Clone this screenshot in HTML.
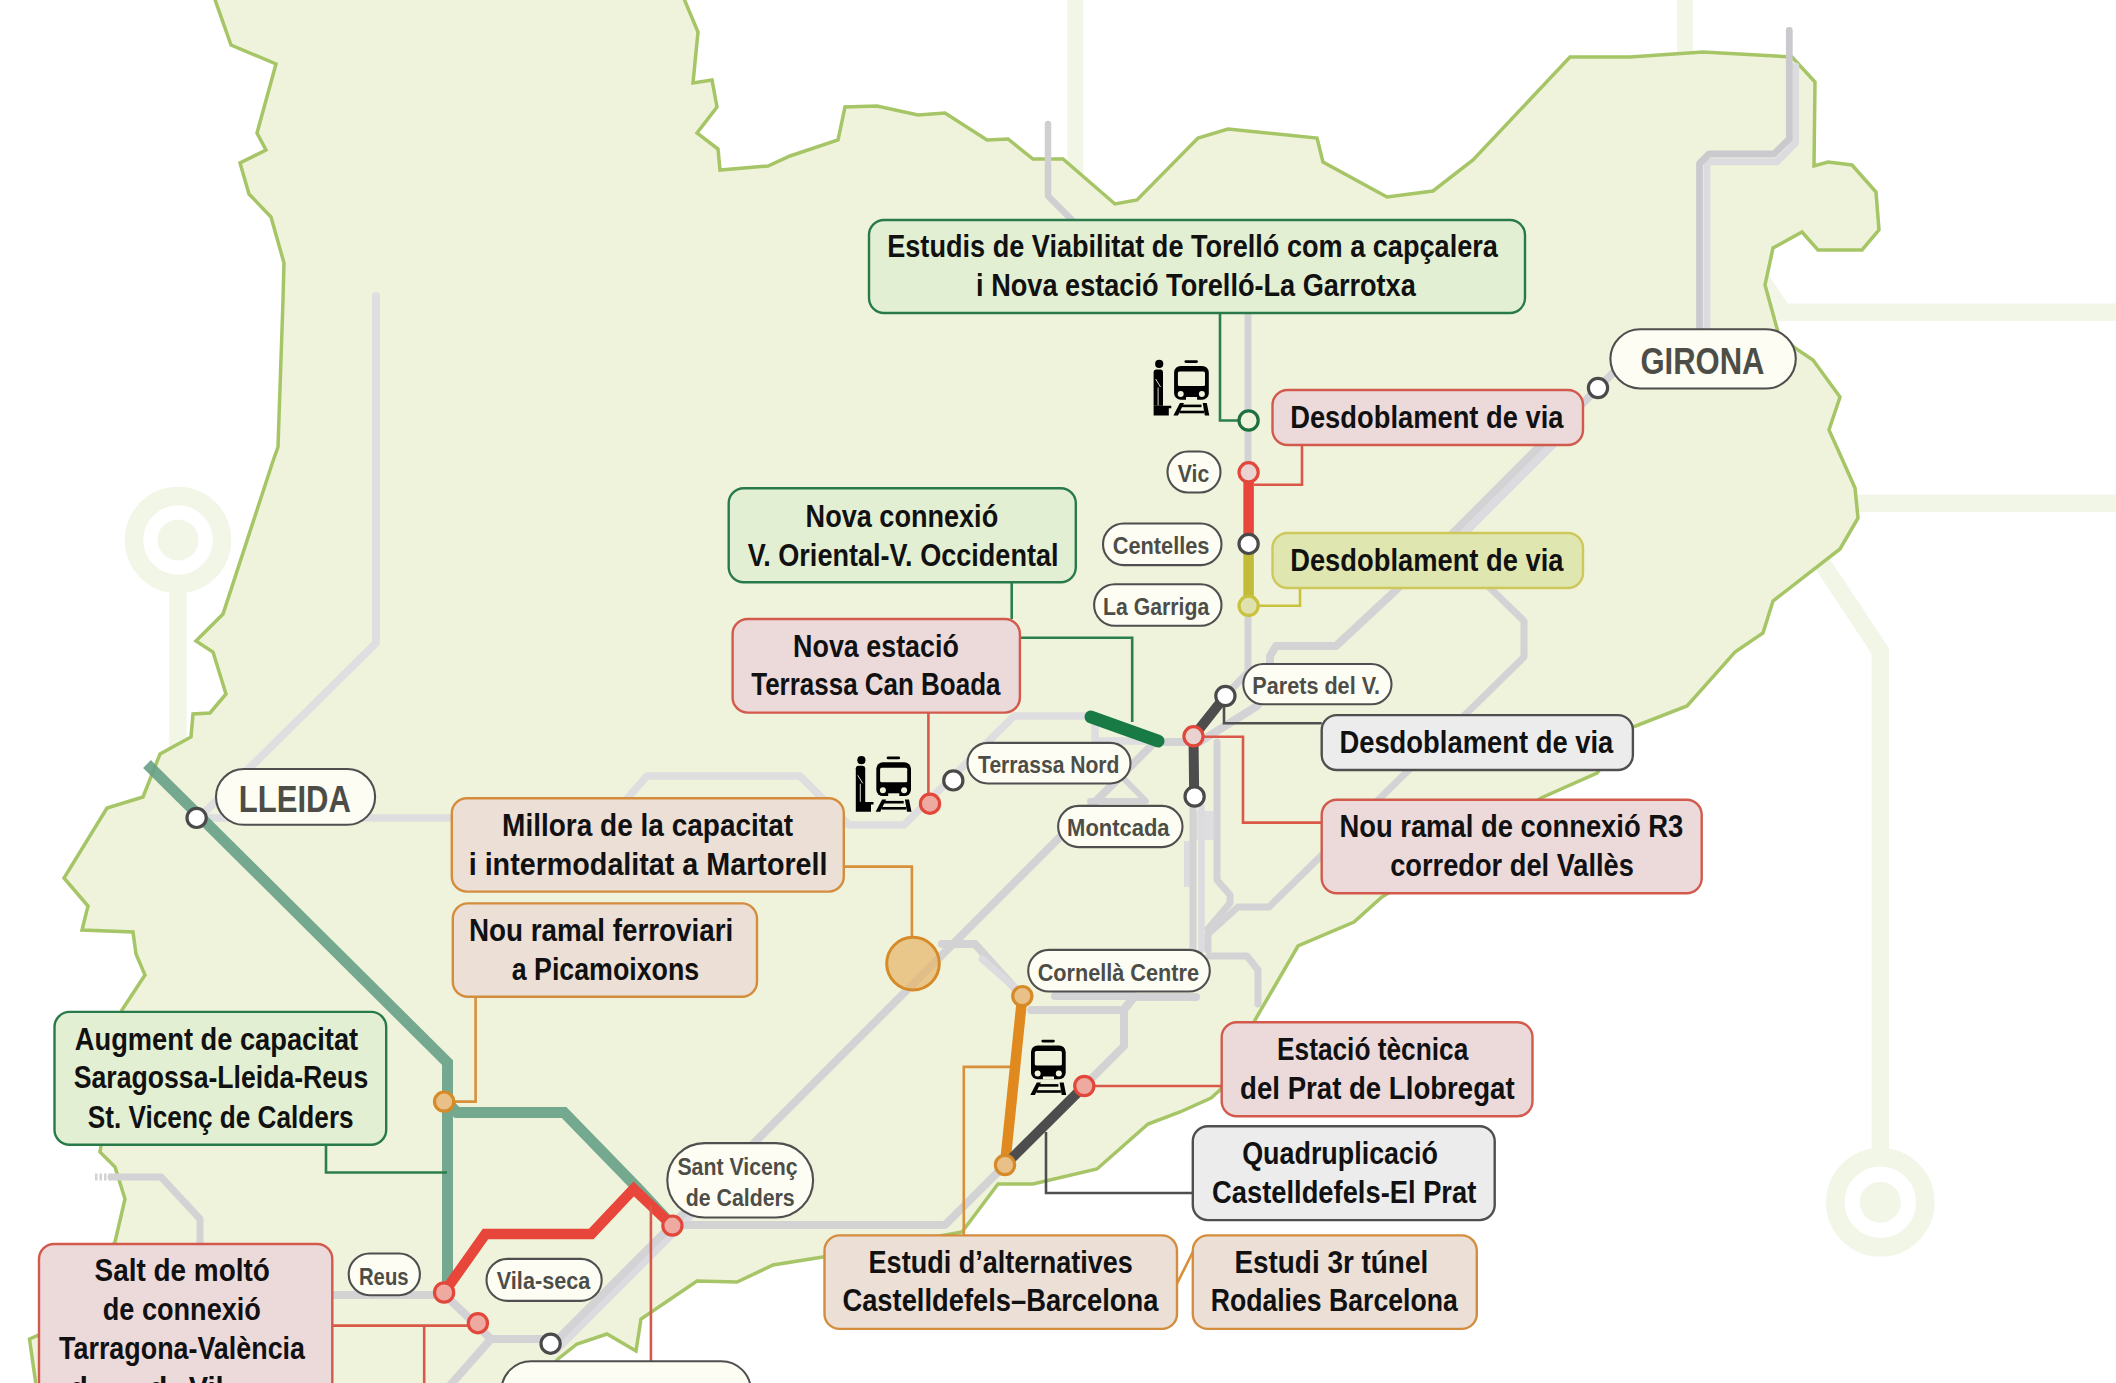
<!DOCTYPE html><html><head><meta charset="utf-8"><title>Mapa</title><style>html,body{margin:0;padding:0;background:#fff;overflow:hidden;}svg{display:block;}text{font-family:"Liberation Sans",sans-serif;font-weight:bold;}</style></head><body>
<svg width="2116" height="1383" viewBox="0 0 2116 1383">
<rect width="2116" height="1383" fill="#ffffff"/>
<g fill="none" stroke="#f1f6e7" stroke-width="17.5"><circle cx="178" cy="540" r="44" stroke-width="18.5"/><path d="M178,592 V770"/><circle cx="1880.3" cy="1202.3" r="45" stroke-width="18.5"/><path d="M1790,515 L1880.3,651 V1150"/><path d="M1755,270 L1783,312.3 H2130"/><path d="M1840,503.2 H2130"/><path d="M1075.5,-10 V175" stroke-width="16"/><path d="M1685,-10 V60" stroke-width="16"/></g>
<circle cx="178" cy="540" r="20.5" fill="#f1f6e7"/>
<circle cx="1880.3" cy="1202.3" r="20.5" fill="#f1f6e7"/>
<polygon points="213,-6 682,-6 698,32 693,83 712,80 717,107 697,133 718,149 720,170 768,166 790,156 838,140 845,107 877,106 918,115 945,113 987,140 1008,139 1033,159 1063,159 1115,204 1137,200 1198,138 1228,129 1317,138 1323,162 1387,197 1433,191 1473,160 1570,57 1630,57 1703,52 1792,57 1815,82 1814,166 1828,162 1852,165 1876,192 1879,230 1862,250 1818,250 1802,232 1773,248 1765,285 1778,332 1795,348 1813,360 1840,397 1829,430 1843,461 1855,488 1858,518 1840,549 1773,601 1763,633 1735,652 1687,706 1633,727 1597,773 1541,798 1382,897 1354,922 1298,946 1255,1020 1220,1090 1211,1098 1180,1112 1148,1124 1097,1169 1033,1184 998,1184 962,1232 823,1257 773,1265 737,1282 697,1281 641,1319 636,1351 607,1334 577,1344 558,1359 530,1392 37,1392 29.5,1339 38.6,1335 115,1242 125,1199 115,1167 100,1152 122,1010 145,975 136,954 133,932 82,930 88,906 64,878 107,808 143,797 160,754 191,737 193,714 210,713 226,694 213,652 196,641 223,614 273,461 278,447 283,300 284,263 271,217 249,194 240,163 266,150 257,133 276,64 231,45 213,-6" fill="#f0f3db" stroke="#a6c566" stroke-width="3.5" stroke-linejoin="miter"/>
<g fill="none" stroke="#d3d3d6" stroke-linejoin="round" stroke-linecap="round">
<path d="M1187.5,841 V887" stroke-width="7" stroke="#dcdcde" stroke-linecap="butt"/>
<path d="M1191,825.5 H1215" stroke-width="29" stroke="#dedee0" stroke-linecap="butt"/>
<path d="M1201.5,807 V950" stroke-width="6.5" stroke="#dcdce0"/>
<path d="M1795.6,66 V143 L1777,161.7 H1707 V330" stroke-width="7" stroke="#dcdce0"/>
<path d="M1789.3,30.4 V139 L1774,154 H1709 L1699.5,163.5 V330" stroke-width="6.8" stroke="#cacace"/>
<path d="M1553,444.3 L1417,580.3" stroke-width="8" stroke="#dcdce0"/>
<path d="M557,1349 L700,1206" stroke-width="8" stroke="#dcdce0"/>
<path d="M1615,371 L1395,591 L1336,646 H1276 L1270,656 V690 L1257,706 L1209,736 L1200,742 H1155 L551,1346" stroke-width="8"/>
<path d="M672,1225 H945 L1124,1046 V1010 L1134,997 H1196" stroke-width="8"/>
<path d="M332,1295 H445 L491,1339 H551 M491,1339 L446,1390" stroke-width="8"/>
<path d="M376,296 V643 L207,810 L197,818" stroke-width="8" stroke="#dfdfe1"/>
<path d="M197,818 H610 L647,776 H800 L849,825 H904 L1014,716 H1090 L1095,721 V741 H1160" stroke-width="7.5" stroke="#dedee0"/>
<path d="M1048,124 V196 L1074,222" stroke-width="6.5" stroke="#cfcfd2"/>
<path d="M1248,313 V672 L1225,696 L1193,736 V951" stroke-width="7"/>
<path d="M1490,588 L1524,621 V657 L1269,907 H1238 L1208,934 V950" stroke-width="7"/>
<path d="M1217,742 V880 L1230,895 V903 L1208,929" stroke-width="7"/>
<path d="M1209,956 H1247 L1258,970 V1004" stroke-width="7"/>
<path d="M942,944 H975 L1020,994 M1031,1010 H1123 L1134,997 M1055,996 H1134" stroke-width="8"/>
<path d="M982,959 L1014,987" stroke-width="7" stroke="#dcdce0"/>
<path d="M1090,801 H1146 L1118,773" stroke-width="6"/>
<path d="M111,1177 H161 L200,1219 V1244" stroke-width="7"/>
</g>
<path d="M95,1177 H111" stroke="#d3d3d6" stroke-width="7" stroke-dasharray="2.5,2" fill="none"/>
<g fill="none" stroke-linejoin="miter">
<path d="M147,764 L447.5,1062.5 V1292 M447.5,1103 L457,1112.5 H564 L637.6,1188.2 L672.4,1225.6" stroke="#66a086" stroke-opacity="0.9" stroke-width="11"/>
<path d="M444.1,1292.5 L485.5,1233.9 H591.3 L633.7,1188.9 L672.4,1225.6" stroke="#e8463a" stroke-width="10.5"/>
<path d="M1248.6,472 V544" stroke="#e8463a" stroke-width="10.5"/>
<path d="M1248.6,544 V606" stroke="#c2bb3a" stroke-width="10.5"/>
<path d="M1225.4,696 L1193.5,736.3 L1194.2,796.5" stroke="#4d4d4d" stroke-width="10"/>
<path d="M1091,717 L1158,741" stroke="#187a45" stroke-width="13" stroke-linecap="round"/>
<path d="M1022.3,996.1 L1005,1165" stroke="#e0891f" stroke-width="10.5"/>
<path d="M1005,1165 L1084.3,1086" stroke="#4d4d4d" stroke-width="10"/>
</g>
<g fill="none" stroke-width="2.6">
<path d="M1220,313 V420.5 H1238" stroke="#2a7f4c"/>
<path d="M1302,445 V484.8 H1254" stroke="#da5848"/>
<path d="M1300,588 V605.8 H1258" stroke="#c9c23e"/>
<path d="M1011.7,582.3 V619" stroke="#2a7f4c"/>
<path d="M1019.9,637.8 H1132.2 V722" stroke="#2a7f4c"/>
<path d="M928.4,712.6 V794" stroke="#da5848"/>
<path d="M1224,702.6 V723.3 H1321.7" stroke="#4f4f4f"/>
<path d="M1203,736.7 H1243 V822.6 H1321.7" stroke="#da5848"/>
<path d="M843.8,866.6 H911.9 V936" stroke="#d8903a"/>
<path d="M475.6,996.8 V1101.6 H454" stroke="#d8903a"/>
<path d="M326,1144.8 V1172.5 H447" stroke="#2a7f4c"/>
<path d="M332.3,1325.6 H468 M424.2,1325.6 V1390" stroke="#da5848"/>
<path d="M650.9,1205 V1361" stroke="#da5848"/>
<path d="M1010,1066.9 H963.8 V1235.4" stroke="#d8903a"/>
<path d="M1094,1086 H1221.7" stroke="#da5848"/>
<path d="M1046,1132 V1193 H1192.8" stroke="#4f4f4f"/>
<path d="M1177,1283.6 L1192.8,1252" stroke="#d8903a"/>
</g>
<circle cx="913" cy="963.6" r="26.3" fill="#e6b46a" fill-opacity="0.72" stroke="#d68a28" stroke-width="3"/>
<circle cx="1598" cy="388" r="9.6" fill="#ffffff" stroke="#4a4a4a" stroke-width="3.2"/>
<circle cx="196.6" cy="817.9" r="9.6" fill="#ffffff" stroke="#4a4a4a" stroke-width="3.2"/>
<circle cx="1248.6" cy="420.5" r="9.6" fill="#f0f3db" stroke="#1f7040" stroke-width="3.2"/>
<circle cx="1248.6" cy="472.3" r="9.6" fill="#ead2d1" stroke="#e2473c" stroke-width="3.2"/>
<circle cx="1248.6" cy="543.9" r="9.6" fill="#ffffff" stroke="#4a4a4a" stroke-width="3.2"/>
<circle cx="1248.6" cy="605.8" r="9.6" fill="#dfe2ae" stroke="#c9c23e" stroke-width="3.2"/>
<circle cx="1225.4" cy="696" r="9.6" fill="#ffffff" stroke="#4a4a4a" stroke-width="3.2"/>
<circle cx="1193.5" cy="736.3" r="9.6" fill="#ead2d1" stroke="#e2473c" stroke-width="3.2"/>
<circle cx="1194.6" cy="796.5" r="9.6" fill="#ffffff" stroke="#4a4a4a" stroke-width="3.2"/>
<circle cx="953.3" cy="780.4" r="9.6" fill="#ffffff" stroke="#4a4a4a" stroke-width="3.2"/>
<circle cx="930" cy="803.7" r="9.6" fill="#eeaaa0" stroke="#e2473c" stroke-width="3.2"/>
<circle cx="1022.3" cy="996.1" r="9.6" fill="#e9c088" stroke="#d68a28" stroke-width="3.2"/>
<circle cx="1005" cy="1165" r="9.6" fill="#e9c088" stroke="#d68a28" stroke-width="3.2"/>
<circle cx="1084.3" cy="1086" r="9.6" fill="#eeaaa0" stroke="#e2473c" stroke-width="3.2"/>
<circle cx="444.1" cy="1101.6" r="9.6" fill="#e9c088" stroke="#d68a28" stroke-width="3.2"/>
<circle cx="444.1" cy="1292.5" r="9.6" fill="#eeaaa0" stroke="#e2473c" stroke-width="3.2"/>
<circle cx="477.9" cy="1323.2" r="9.6" fill="#eeaaa0" stroke="#e2473c" stroke-width="3.2"/>
<circle cx="550.6" cy="1343.7" r="9.6" fill="#ffffff" stroke="#4a4a4a" stroke-width="3.2"/>
<circle cx="672.4" cy="1225.6" r="9.6" fill="#eeaaa0" stroke="#e2473c" stroke-width="3.2"/>
<rect x="869.0" y="220.0" width="656.0" height="93.0" rx="15" fill="#e3efd3" stroke="#287a4a" stroke-width="2.4"/>
<text x="887.2" y="257.4" font-size="30.5" fill="#111111" textLength="610.7" lengthAdjust="spacingAndGlyphs">Estudis de Viabilitat de Torelló com a capçalera</text>
<text x="976.1" y="296.3" font-size="30.5" fill="#111111" textLength="439.7" lengthAdjust="spacingAndGlyphs">i Nova estació Torelló-La Garrotxa</text>
<rect x="1272.5" y="390.0" width="310.5" height="55.0" rx="15" fill="#ecdadb" stroke="#d25a4d" stroke-width="2.4"/>
<text x="1290.2" y="428.2" font-size="30.5" fill="#111111" textLength="273.3" lengthAdjust="spacingAndGlyphs">Desdoblament de via</text>
<rect x="1272.5" y="533.0" width="310.5" height="55.0" rx="15" fill="#dfe6b0" stroke="#cdc85a" stroke-width="2.4"/>
<text x="1290.2" y="571.1" font-size="30.5" fill="#111111" textLength="273.3" lengthAdjust="spacingAndGlyphs">Desdoblament de via</text>
<rect x="728.7" y="488.2" width="347.1" height="94.1" rx="15" fill="#e3efd3" stroke="#287a4a" stroke-width="2.4"/>
<text x="805.6" y="526.9" font-size="30.5" fill="#111111" textLength="192.6" lengthAdjust="spacingAndGlyphs">Nova connexió</text>
<text x="747.7" y="565.7" font-size="30.5" fill="#111111" textLength="310.8" lengthAdjust="spacingAndGlyphs">V. Oriental-V. Occidental</text>
<rect x="732.6" y="619.0" width="287.3" height="93.6" rx="15" fill="#ecdadb" stroke="#d25a4d" stroke-width="2.4"/>
<text x="793.1" y="656.6" font-size="30.5" fill="#111111" textLength="165.8" lengthAdjust="spacingAndGlyphs">Nova estació</text>
<text x="751.2" y="695.4" font-size="30.5" fill="#111111" textLength="249.3" lengthAdjust="spacingAndGlyphs">Terrassa Can Boada</text>
<rect x="1321.7" y="715.1" width="311.2" height="54.9" rx="15" fill="#ececec" stroke="#4f4f4f" stroke-width="2.4"/>
<text x="1339.4" y="752.6" font-size="30.5" fill="#111111" textLength="273.9" lengthAdjust="spacingAndGlyphs">Desdoblament de via</text>
<rect x="1321.7" y="799.8" width="380.0" height="93.4" rx="15" fill="#ecdadb" stroke="#d25a4d" stroke-width="2.4"/>
<text x="1339.4" y="837.0" font-size="30.5" fill="#111111" textLength="343.9" lengthAdjust="spacingAndGlyphs">Nou ramal de connexió R3</text>
<text x="1390.2" y="875.8" font-size="30.5" fill="#111111" textLength="243.7" lengthAdjust="spacingAndGlyphs">corredor del Vallès</text>
<rect x="451.8" y="798.2" width="392.0" height="93.4" rx="15" fill="#ebdfd6" stroke="#d48d3d" stroke-width="2.4"/>
<text x="502.1" y="835.8" font-size="30.5" fill="#111111" textLength="291.0" lengthAdjust="spacingAndGlyphs">Millora de la capacitat</text>
<text x="468.7" y="874.7" font-size="30.5" fill="#111111" textLength="358.8" lengthAdjust="spacingAndGlyphs">i intermodalitat a Martorell</text>
<rect x="452.8" y="903.4" width="304.2" height="93.4" rx="15" fill="#ebdfd6" stroke="#d48d3d" stroke-width="2.4"/>
<text x="468.9" y="941.0" font-size="30.5" fill="#111111" textLength="264.4" lengthAdjust="spacingAndGlyphs">Nou ramal ferroviari</text>
<text x="511.7" y="979.6" font-size="30.5" fill="#111111" textLength="187.5" lengthAdjust="spacingAndGlyphs">a Picamoixons</text>
<rect x="54.5" y="1011.9" width="331.7" height="132.9" rx="15" fill="#e3efd3" stroke="#287a4a" stroke-width="2.4"/>
<text x="74.8" y="1049.8" font-size="30.5" fill="#111111" textLength="283.4" lengthAdjust="spacingAndGlyphs">Augment de capacitat</text>
<text x="73.8" y="1088.3" font-size="30.5" fill="#111111" textLength="294.4" lengthAdjust="spacingAndGlyphs">Saragossa-Lleida-Reus</text>
<text x="87.8" y="1127.6" font-size="30.5" fill="#111111" textLength="265.9" lengthAdjust="spacingAndGlyphs">St. Vicenç de Calders</text>
<rect x="1221.7" y="1022.2" width="310.8" height="94.1" rx="15" fill="#ecdadb" stroke="#d25a4d" stroke-width="2.4"/>
<text x="1277.0" y="1060.2" font-size="30.5" fill="#111111" textLength="191.3" lengthAdjust="spacingAndGlyphs">Estació tècnica</text>
<text x="1240.1" y="1098.8" font-size="30.5" fill="#111111" textLength="274.5" lengthAdjust="spacingAndGlyphs">del Prat de Llobregat</text>
<rect x="1192.8" y="1126.2" width="301.9" height="93.9" rx="15" fill="#ececec" stroke="#4f4f4f" stroke-width="2.4"/>
<text x="1242.2" y="1164.0" font-size="30.5" fill="#111111" textLength="195.7" lengthAdjust="spacingAndGlyphs">Quadruplicació</text>
<text x="1212.1" y="1202.6" font-size="30.5" fill="#111111" textLength="264.2" lengthAdjust="spacingAndGlyphs">Castelldefels-El Prat</text>
<rect x="824.5" y="1235.4" width="352.5" height="93.5" rx="15" fill="#ebdfd6" stroke="#d48d3d" stroke-width="2.4"/>
<text x="868.6" y="1272.5" font-size="30.5" fill="#111111" textLength="264.2" lengthAdjust="spacingAndGlyphs">Estudi d’alternatives</text>
<text x="842.4" y="1311.1" font-size="30.5" fill="#111111" textLength="316.1" lengthAdjust="spacingAndGlyphs">Castelldefels–Barcelona</text>
<rect x="1192.8" y="1235.4" width="284.0" height="93.5" rx="15" fill="#ebdfd6" stroke="#d48d3d" stroke-width="2.4"/>
<text x="1234.4" y="1272.5" font-size="30.5" fill="#111111" textLength="193.8" lengthAdjust="spacingAndGlyphs">Estudi 3r túnel</text>
<text x="1210.7" y="1311.1" font-size="30.5" fill="#111111" textLength="247.0" lengthAdjust="spacingAndGlyphs">Rodalies Barcelona</text>
<rect x="39.0" y="1244.0" width="293.3" height="186.0" rx="15" fill="#ecdadb" stroke="#d25a4d" stroke-width="2.4"/>
<text x="94.5" y="1281.4" font-size="30.5" fill="#111111" textLength="175.4" lengthAdjust="spacingAndGlyphs">Salt de moltó</text>
<text x="102.8" y="1320.0" font-size="30.5" fill="#111111" textLength="158.1" lengthAdjust="spacingAndGlyphs">de connexió</text>
<text x="59.1" y="1359.2" font-size="30.5" fill="#111111" textLength="245.9" lengthAdjust="spacingAndGlyphs">Tarragona-València</text>
<text x="69.8" y="1399.0" font-size="30.5" fill="#111111" textLength="18.1" lengthAdjust="spacingAndGlyphs">d</text>
<text x="148.8" y="1399.0" font-size="30.5" fill="#111111" textLength="18.7" lengthAdjust="spacingAndGlyphs">d</text>
<text x="188.7" y="1399.0" font-size="30.5" fill="#111111" textLength="35.0" lengthAdjust="spacingAndGlyphs">Vil</text>
<rect x="1610.4" y="329.2" width="185.4" height="59.3" rx="29.7" fill="#fdfdf3" stroke="#4f4f4f" stroke-width="2.1"/>
<text x="1640.5" y="374.0" font-size="37" fill="#4d4d48" textLength="124.0" lengthAdjust="spacingAndGlyphs">GIRONA</text>
<rect x="216.0" y="769.0" width="159.1" height="55.8" rx="27.9" fill="#fdfdf3" stroke="#4f4f4f" stroke-width="2.1"/>
<text x="238.8" y="811.9" font-size="37" fill="#4d4d48" textLength="112.1" lengthAdjust="spacingAndGlyphs">LLEIDA</text>
<rect x="1167.5" y="451.5" width="53.0" height="41.0" rx="20.5" fill="#fdfdf3" stroke="#4f4f4f" stroke-width="2.1"/>
<text x="1177.8" y="482.4" font-size="23.5" fill="#4d4d48" textLength="31.5" lengthAdjust="spacingAndGlyphs">Vic</text>
<rect x="1103.0" y="523.5" width="118.5" height="41.6" rx="20.8" fill="#fdfdf3" stroke="#4f4f4f" stroke-width="2.1"/>
<text x="1112.7" y="554.3" font-size="23.5" fill="#4d4d48" textLength="96.8" lengthAdjust="spacingAndGlyphs">Centelles</text>
<rect x="1094.1" y="584.2" width="127.4" height="41.6" rx="20.8" fill="#fdfdf3" stroke="#4f4f4f" stroke-width="2.1"/>
<text x="1103.1" y="615.0" font-size="23.5" fill="#4d4d48" textLength="106.1" lengthAdjust="spacingAndGlyphs">La Garriga</text>
<rect x="1243.3" y="664.0" width="148.2" height="40.3" rx="20.1" fill="#fdfdf3" stroke="#4f4f4f" stroke-width="2.1"/>
<text x="1252.3" y="693.7" font-size="23.5" fill="#4d4d48" textLength="127.8" lengthAdjust="spacingAndGlyphs">Parets del V.</text>
<rect x="967.5" y="742.9" width="163.0" height="40.6" rx="20.3" fill="#fdfdf3" stroke="#4f4f4f" stroke-width="2.1"/>
<text x="978.1" y="773.3" font-size="23.5" fill="#4d4d48" textLength="141.3" lengthAdjust="spacingAndGlyphs">Terrassa Nord</text>
<rect x="1058.1" y="805.9" width="124.4" height="41.2" rx="20.6" fill="#fdfdf3" stroke="#4f4f4f" stroke-width="2.1"/>
<text x="1067.1" y="836.3" font-size="23.5" fill="#4d4d48" textLength="102.5" lengthAdjust="spacingAndGlyphs">Montcada</text>
<rect x="1028.2" y="949.9" width="181.6" height="41.6" rx="20.8" fill="#fdfdf3" stroke="#4f4f4f" stroke-width="2.1"/>
<text x="1037.7" y="980.7" font-size="23.5" fill="#4d4d48" textLength="161.3" lengthAdjust="spacingAndGlyphs">Cornellà Centre</text>
<rect x="667.3" y="1143.1" width="145.8" height="74.4" rx="37.2" fill="#fdfdf3" stroke="#4f4f4f" stroke-width="2.1"/>
<text x="677.4" y="1175.0" font-size="23.5" fill="#4d4d48" textLength="120.3" lengthAdjust="spacingAndGlyphs">Sant Vicenç</text>
<text x="685.7" y="1206.4" font-size="23.5" fill="#4d4d48" textLength="109.0" lengthAdjust="spacingAndGlyphs">de Calders</text>
<rect x="348.7" y="1253.5" width="71.2" height="41.7" rx="20.9" fill="#fdfdf3" stroke="#4f4f4f" stroke-width="2.1"/>
<text x="359.0" y="1284.8" font-size="23.5" fill="#4d4d48" textLength="49.5" lengthAdjust="spacingAndGlyphs">Reus</text>
<rect x="486.5" y="1258.9" width="115.2" height="42.0" rx="21.0" fill="#fdfdf3" stroke="#4f4f4f" stroke-width="2.1"/>
<text x="496.8" y="1289.0" font-size="23.5" fill="#4d4d48" textLength="93.5" lengthAdjust="spacingAndGlyphs">Vila-seca</text>
<rect x="501.4" y="1361.2" width="249.5" height="59.3" rx="29.6" fill="#fdfdf3" stroke="#4f4f4f" stroke-width="2.1"/>
<g transform="translate(1145,352)"><circle cx="14.2" cy="11.9" r="4.1" fill="#000"/><path d="M8.6,20 Q8.6,17.5 11,17.5 H15.6 Q18,17.5 18,20 V53.7 H8.6 Z" fill="#000"/><path d="M10.6,27 L15.5,35 M13.1,35.5 V53.5" stroke="#f0f3db" stroke-width="0.9" fill="none"/><path d="M8.6,53.7 H26.3 V56.2 H23.8 V63.5 H8.6 Z" fill="#000"/><rect x="39.5" y="8.3" width="13.4" height="2.6" rx="1.3" fill="#000"/><rect x="29.1" y="13.9" width="34.7" height="33.9" rx="6.6" fill="#000"/><rect x="32.9" y="19.5" width="27.1" height="14.4" rx="1.5" fill="#f0f3db"/><circle cx="35.7" cy="42" r="3" fill="#f0f3db"/><circle cx="56.9" cy="42" r="3" fill="#f0f3db"/><rect x="41" y="45" width="11.1" height="3" fill="#f0f3db"/><path d="M34.9,51.1 H39 L33,63.5 H28.4 Z M57.7,51.1 H61.8 L64.3,63.5 H59.8 Z" fill="#000"/><rect x="36.5" y="52.6" width="20" height="2.6" fill="#000"/><rect x="34.5" y="58.7" width="24.5" height="2.6" fill="#000"/></g>
<g transform="translate(847.2,748.3)"><circle cx="14.2" cy="11.9" r="4.1" fill="#000"/><path d="M8.6,20 Q8.6,17.5 11,17.5 H15.6 Q18,17.5 18,20 V53.7 H8.6 Z" fill="#000"/><path d="M10.6,27 L15.5,35 M13.1,35.5 V53.5" stroke="#f0f3db" stroke-width="0.9" fill="none"/><path d="M8.6,53.7 H26.3 V56.2 H23.8 V63.5 H8.6 Z" fill="#000"/><rect x="39.5" y="8.3" width="13.4" height="2.6" rx="1.3" fill="#000"/><rect x="29.1" y="13.9" width="34.7" height="33.9" rx="6.6" fill="#000"/><rect x="32.9" y="19.5" width="27.1" height="14.4" rx="1.5" fill="#f0f3db"/><circle cx="35.7" cy="42" r="3" fill="#f0f3db"/><circle cx="56.9" cy="42" r="3" fill="#f0f3db"/><rect x="41" y="45" width="11.1" height="3" fill="#f0f3db"/><path d="M34.9,51.1 H39 L33,63.5 H28.4 Z M57.7,51.1 H61.8 L64.3,63.5 H59.8 Z" fill="#000"/><rect x="36.5" y="52.6" width="20" height="2.6" fill="#000"/><rect x="34.5" y="58.7" width="24.5" height="2.6" fill="#000"/></g>
<g transform="translate(1001.9,1031.5)"><rect x="39.5" y="8.3" width="13.4" height="2.6" rx="1.3" fill="#000"/><rect x="29.1" y="13.9" width="34.7" height="33.9" rx="6.6" fill="#000"/><rect x="32.9" y="19.5" width="27.1" height="14.4" rx="1.5" fill="#f0f3db"/><circle cx="35.7" cy="42" r="3" fill="#f0f3db"/><circle cx="56.9" cy="42" r="3" fill="#f0f3db"/><rect x="41" y="45" width="11.1" height="3" fill="#f0f3db"/><path d="M34.9,51.1 H39 L33,63.5 H28.4 Z M57.7,51.1 H61.8 L64.3,63.5 H59.8 Z" fill="#000"/><rect x="36.5" y="52.6" width="20" height="2.6" fill="#000"/><rect x="34.5" y="58.7" width="24.5" height="2.6" fill="#000"/></g>
</svg></body></html>
